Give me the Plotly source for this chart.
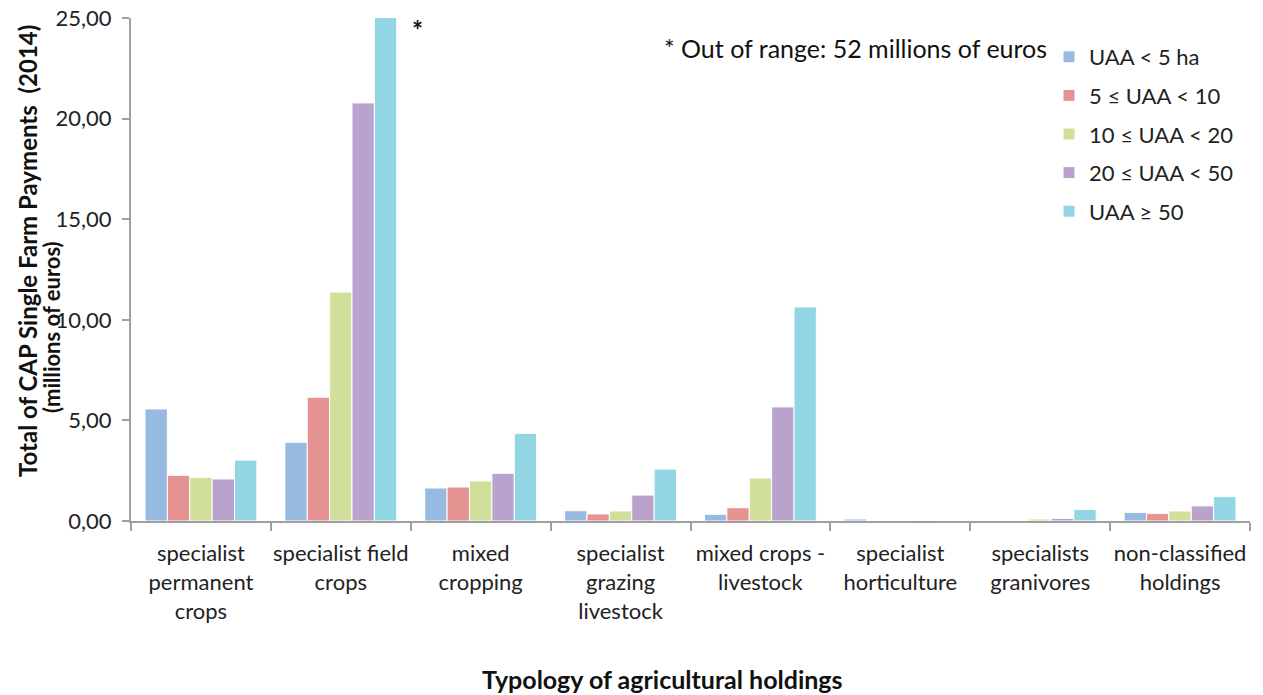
import plotly.graph_objects as go

categories = [
    "specialist<br>permanent<br>crops",
    "specialist field<br>crops",
    "mixed<br>cropping",
    "specialist<br>grazing<br>livestock",
    "mixed crops -<br>livestock",
    "specialist<br>horticulture",
    "specialists<br>granivores",
    "non-classified<br>holdings",
]
series_names = ["UAA < 5 ha", "5 ≤ UAA < 10", "10 ≤ UAA < 20", "20 ≤ UAA < 50", "UAA ≥ 50"]
uaa_lt5 = [5.57, 3.91, 1.64, 0.51, 0.33, 0.10, 0.00, 0.43]
uaa_5_10 = [2.27, 6.15, 1.69, 0.35, 0.66, 0.00, 0.00, 0.38]
uaa_10_20 = [2.17, 11.38, 1.99, 0.50, 2.14, 0.00, 0.10, 0.50]
uaa_20_50 = [2.09, 20.78, 2.37, 1.29, 5.67, 0.03, 0.13, 0.75]
uaa_ge50 = [3.03, 52.00, 4.36, 2.58, 10.64, 0.00, 0.58, 1.21]
colors = ["#97BAE0", "#E49292", "#D0E09B", "#B9A3CC", "#93D6E3"]

fig = go.Figure()
for i, (name, vals, col) in enumerate(zip(series_names, [uaa_lt5, uaa_5_10, uaa_10_20, uaa_20_50, uaa_ge50], colors)):
    fig.add_trace(go.Bar(x=categories, y=vals, name=name, legendgroup=f"g{i}",
                         marker=dict(color=col, line=dict(color="white", width=1))))

W, H = 1263, 695
OFF = 0  # page body margin removed via post_script
# desired plot area in screenshot pixels
X0, X1, Y0, Y1 = 131, 1250, 18, 521
L, T = X0 - OFF, Y0 - OFF
R, B = W - (X1 - OFF), H - (Y1 - OFF)
PW, PH = X1 - X0, Y1 - Y0


def px(x):
    return (x - X0) / PW


def py(y):
    return (Y1 - y) / PH


font_family = "Lato, 'Liberation Sans', sans-serif"
fig.update_layout(
    width=W, height=H,
    barmode="group", bargap=0.2, bargroupgap=0,
    separators=",.",
    plot_bgcolor="white", paper_bgcolor="white",
    margin=dict(l=L, r=R, t=T, b=B, autoexpand=False),
    font=dict(family=font_family, size=22, color="#222222"),
    showlegend=True,
    legend=dict(x=px(1049), y=py(36), xanchor="left", yanchor="top",
                font=dict(size=22, color="#222222"), itemwidth=30,
                tracegroupgap=7, bgcolor="rgba(0,0,0,0)"),
    xaxis=dict(showline=True, linecolor="#A0A0A0", linewidth=2, automargin=False,
               ticks="outside", tickson="boundaries", ticklen=8, tickcolor="#A0A0A0",
               tickwidth=2, tickangle=0, ticklabelstandoff=12,
               tickfont=dict(size=22, color="#222222"), showgrid=False),
    yaxis=dict(range=[0, 25], dtick=5, tickformat=".2f", showline=True, automargin=False,
               linecolor="#A0A0A0", linewidth=2, ticks="outside", ticklen=7,
               tickcolor="#A0A0A0", tickwidth=2, showgrid=False, ticklabelstandoff=6,
               ticklabeloverflow="allow",
               tickfont=dict(size=22, color="#222222"), zeroline=False),
)

notes = [
    ("* Out of range: 52 millions of euros", 855, 48, 25, 0),
    ("<b>*</b>", 417, 30, 26, 0),
    ("<b>Typology of agricultural holdings</b>", 662, 679, 25, 0),
    ("<b>Total of CAP Single Farm Payments  (2014)</b>", 27, 251, 24, -90),
    ("<b>(millions of euros)</b>", 51, 327, 22, -90),
]
for text, x, y, size, ang in notes:
    fig.add_annotation(text=text, x=px(x), y=py(y), xref="paper", yref="paper",
                       xanchor="center", yanchor="middle", showarrow=False, textangle=ang,
                       font=dict(size=size, color="#111111"))

fig.write_html("out.html", config={"displayModeBar": False},
               post_script="document.body.style.margin='0px';")
